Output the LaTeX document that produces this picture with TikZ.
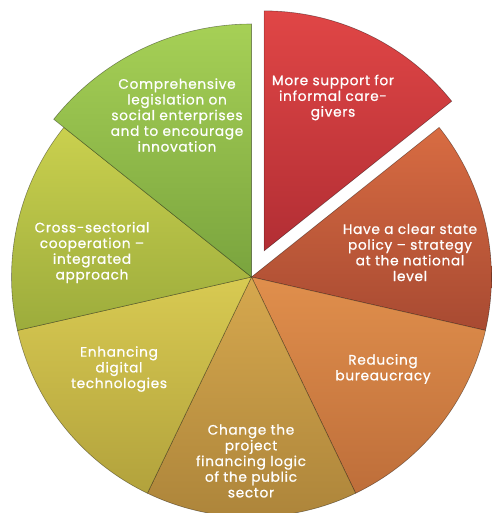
\documentclass[tikz,border=0pt]{standalone}
\usepackage{fontspec}
\setmainfont{Poppins}
\newfontfamily\lblfont{Poppins}[FakeBold=0.8,LetterSpace=5]
\usetikzlibrary{calc}
\definecolor{redT}{RGB}{224,70,70}
\definecolor{redB}{RGB}{178,46,52}
\definecolor{ornT}{RGB}{216,108,66}
\definecolor{ornB}{RGB}{168,74,50}
\definecolor{redcT}{RGB}{224,143,76}
\definecolor{redcB}{RGB}{190,110,58}
\definecolor{chgT}{RGB}{214,168,78}
\definecolor{chgB}{RGB}{172,132,58}
\definecolor{enhT}{RGB}{216,202,82}
\definecolor{enhB}{RGB}{178,162,60}
\definecolor{crsT}{RGB}{202,208,78}
\definecolor{crsB}{RGB}{156,172,60}
\definecolor{cmpT}{RGB}{166,208,86}
\definecolor{cmpB}{RGB}{122,164,62}
\newcommand\piesect[6]{%
  % #1 apex, #2 start, #3 end, #4 radius, #5 top colour, #6 bottom colour
  \fill[black,opacity=0.18,shift={(1.2,-2.2)}] (#1) -- ++(#2:#4) arc[start angle=#2,end angle=#3,radius=#4] -- cycle;
  \path[sectorstyle,top color=#5,bottom color=#6] (#1) -- ++(#2:#4) arc[start angle=#2,end angle=#3,radius=#4] -- cycle;
}
\tikzset{
  sectorstyle/.style={draw=black,draw opacity=0.35,line width=0.6pt},
  lbl/.style={text=white,align=center,font=\lblfont\fontsize{13.7}{15.7}\selectfont,inner sep=0pt}
}
\begin{document}
\begin{tikzpicture}[x=1pt,y=1pt]
\useasboundingbox[fill=white] (0,0) rectangle (491,-513);
\coordinate (C) at (251.5,-277);
\coordinate (Ared) at ($(C)+(64.29:29)$);
\piesect{C}{-12.86}{38.57}{240}{ornT}{ornB}
\piesect{C}{-64.29}{-12.86}{240}{redcT}{redcB}
\piesect{C}{-115.71}{-64.29}{240}{chgT}{chgB}
\piesect{C}{-167.14}{-115.71}{240}{enhT}{enhB}
\piesect{C}{141.43}{192.86}{240}{crsT}{crsB}
\piesect{C}{90}{141.43}{253}{cmpT}{cmpB}
\piesect{Ared}{38.57}{90}{240}{redT}{redB}
\node[lbl] (t1) at (333,-97.5) {More support for\\informal care-\\givers};
\node[lbl] (t2) at (410,-252.5) {Have a clear state\\policy – strategy\\at the national\\level};
\node[lbl] (t3) at (383,-369) {Reducing\\bureaucracy};
\node[lbl] (t4) at (251,-461) {Change the\\project\\financing logic\\of the public\\sector};
\node[lbl] (t5) at (119,-369) {Enhancing\\digital\\technologies};
\node[lbl] (t6) at (92,-252.5) {Cross-sectorial\\cooperation –\\integrated\\approach};
\node[lbl] (t7) at (177,-115) {Comprehensive\\legislation on\\social enterprises\\and to encourage\\innovation};
\end{tikzpicture}
\end{document}
